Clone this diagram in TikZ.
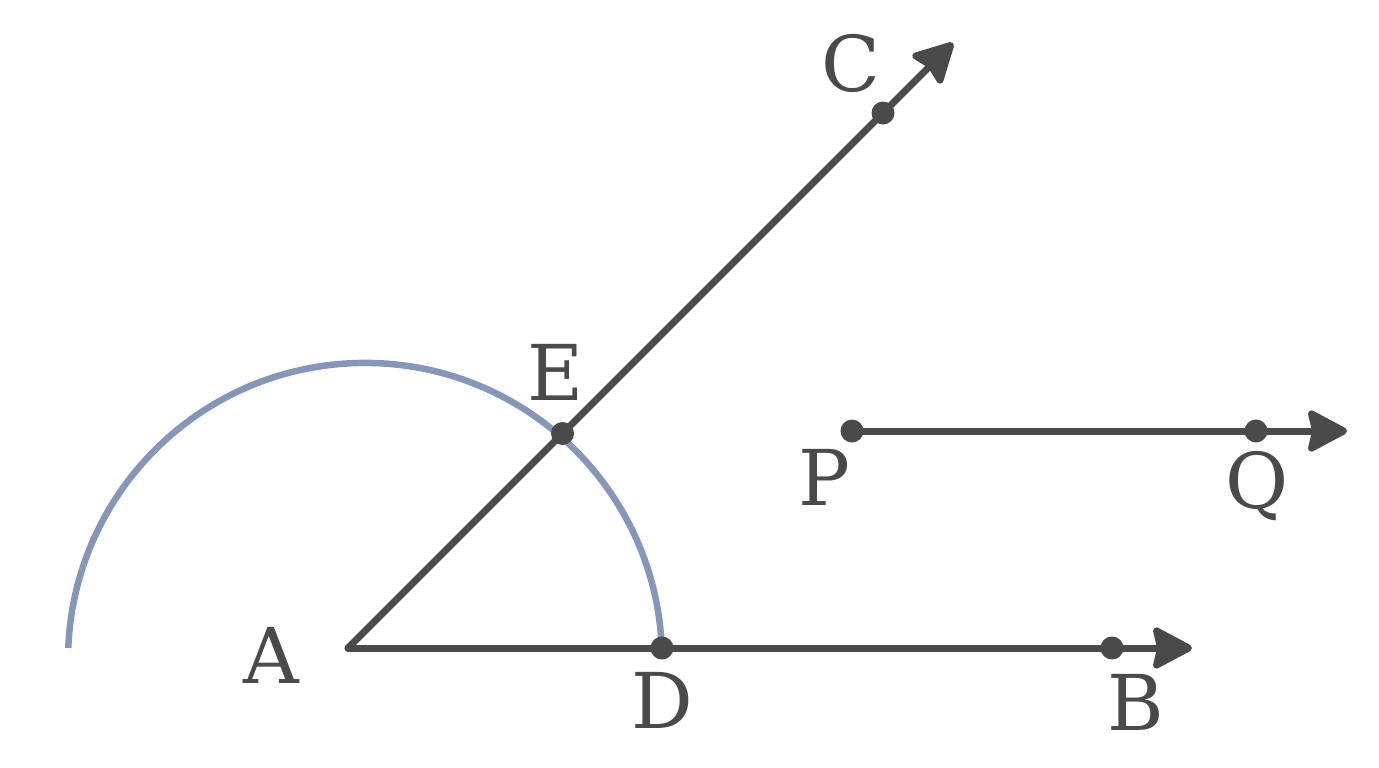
\documentclass[tikz,border=0pt]{standalone}
\usepackage{fontspec}
\setmainfont{DejaVu Serif}
\usetikzlibrary{arrows.meta}
\definecolor{ink}{HTML}{4A4A4A}
\definecolor{arcblue}{HTML}{8497BA}
\tikzset{
  ray/.style={draw=ink, line width=7pt, line cap=round, line join=round,
    -{Stealth[length=44pt,width=46pt,inset=5pt,round=false]}},
  arcline/.style={draw=arcblue, line width=6.5pt},
  dot/.style={circle, fill=ink, inner sep=0pt, minimum size=23pt},
  lbl/.style={text=ink, font=\fontsize{77}{80}\selectfont, inner sep=0pt, anchor=base}
}
\begin{document}
\begin{tikzpicture}[x=1pt,y=-1pt]
\useasboundingbox (0,0) rectangle (1379,768);
% points
\coordinate (A) at (348,648);
\coordinate (pD) at (662,648);
\coordinate (pB) at (1112,648);
\coordinate (Btip) at (1192,648);
\coordinate (pE) at (562.5,433.5);
\coordinate (pC) at (883,113);
\coordinate (Ctip) at (953,43);
\coordinate (pP) at (852,431);
\coordinate (pQ) at (1256,431);
\coordinate (Qtip) at (1347,431);
% compass arc
\draw[arcline] (661.76,648) arc[start angle=-2.3, end angle=-177.7, radius=297];
% rays
\draw[ray] (A) -- (Btip);
\draw[ray] (A) -- (Ctip);
\draw[ray] (pP) -- (Qtip);
% dots
\node[dot] (D) at (pD) {};
\node[dot] (B) at (pB) {};
\node[dot] (E) at (pE) {};
\node[dot] (C) at (pC) {};
\node[dot] (P) at (pP) {};
\node[dot] (Q) at (pQ) {};
% labels
\node[lbl] (lA) at (271,683) {A};
\node[lbl] (lB) at (1136,730) {B};
\node[lbl] (lC) at (851,92) {C};
\node[lbl] (lD) at (662,728) {D};
\node[lbl] (lE) at (556,400) {E};
\node[lbl] (lP) at (824,505) {P};
\node[lbl] (lQ) at (1257,508) {Q};
\end{tikzpicture}
\end{document}
